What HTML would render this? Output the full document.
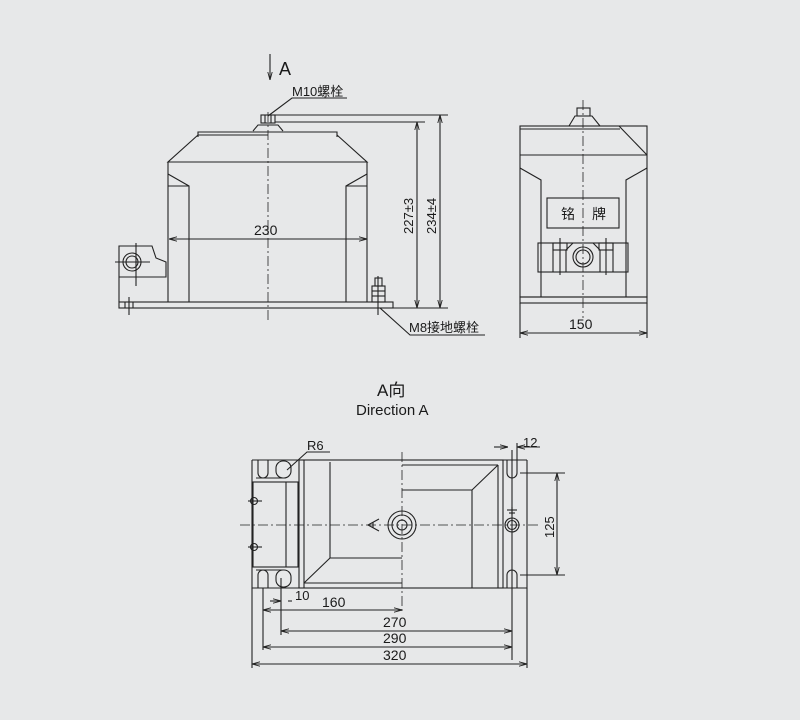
<!DOCTYPE html>
<html><head><meta charset="utf-8"><style>
html,body{margin:0;padding:0;background:#e7e8e9;}
svg{display:block}
text{font-family:"Liberation Sans","Noto Sans CJK SC",sans-serif;fill:#1a1a1a}
</style></head><body>
<svg width="800" height="720" viewBox="0 0 800 720" xmlns="http://www.w3.org/2000/svg">
<defs>
<marker id="a" markerWidth="8" markerHeight="6" refX="8" refY="3" orient="auto-start-reverse" markerUnits="userSpaceOnUse"><path d="M0,0.8 L8,3 L0,5.2" fill="none" stroke="#222" stroke-width="0.9"/></marker>
</defs>
<g fill="none" stroke="#222" stroke-width="1.1">
<!-- LEFT VIEW -->
<line x1="270" y1="54" x2="270" y2="80" marker-end="url(#a)"/>
<polyline points="347,98 292,98 268,116"/>
<rect x="261" y="115" width="14" height="8"/>
<line x1="265" y1="115" x2="265" y2="123"/><line x1="271" y1="115" x2="271" y2="123"/>
<polyline points="253,131 258,125 278,125 283,131"/>
<polyline points="198,137 198,132 337,132 337,137"/>
<line x1="198" y1="135" x2="268" y2="135"/>
<polyline points="198,135 168,162 367,162 337,135"/>
<polyline points="168,162 168,302"/><polyline points="367,162 367,302"/>
<polyline points="168,174 189,186 189,302"/><polyline points="367,174 346,186 346,302"/>
<line x1="168" y1="186" x2="189" y2="186"/><line x1="346" y1="186" x2="367" y2="186"/>
<rect x="119" y="302" width="274" height="6"/>
<polyline points="119,302 119,246 152,246 156,258 166,262 166,277 119,277"/>
<circle cx="132" cy="262" r="9"/><circle cx="132" cy="262" r="6"/>
<line x1="115" y1="262" x2="150" y2="262"/><line x1="136" y1="243" x2="136" y2="286"/>
<line x1="129" y1="297" x2="129" y2="315"/><line x1="125" y1="302" x2="125" y2="308"/><line x1="133" y1="302" x2="133" y2="308"/>
<rect x="372" y="286" width="13" height="16"/><rect x="375" y="278" width="7" height="8"/>
<line x1="372" y1="291" x2="385" y2="291"/><line x1="372" y1="296" x2="385" y2="296"/>
<line x1="378" y1="276" x2="378" y2="315"/>
<polyline points="380,308 410,335 485,335"/>
<line x1="169" y1="239" x2="367" y2="239" marker-start="url(#a)" marker-end="url(#a)"/>
<line x1="275" y1="115" x2="448" y2="115"/><line x1="275" y1="122" x2="425" y2="122"/>
<line x1="393" y1="308" x2="448" y2="308"/>
<line x1="417" y1="122" x2="417" y2="308" marker-start="url(#a)" marker-end="url(#a)"/>
<line x1="440" y1="115" x2="440" y2="308" marker-start="url(#a)" marker-end="url(#a)"/>
<line x1="268" y1="112" x2="268" y2="322" stroke-dasharray="10,3,2,3" stroke-width="0.8"/>
<!-- RIGHT VIEW -->
<rect x="577" y="108" width="13" height="8"/>
<polyline points="569,126 575,116 592,116 600,126"/>
<rect x="520" y="126" width="127" height="171"/>
<line x1="520" y1="129" x2="620" y2="129"/>
<polyline points="619,126 647,155"/>
<line x1="520" y1="155" x2="647" y2="155"/>
<polyline points="520,168 541,180 541,297"/><polyline points="647,168 626,180 626,297"/>
<rect x="520" y="297" width="127" height="6"/>
<rect x="547" y="198" width="72" height="30"/>
<rect x="538" y="243" width="90" height="29"/>
<line x1="553" y1="243" x2="553" y2="272"/><line x1="613" y1="243" x2="613" y2="272"/>
<polyline points="566,272 566,250 573,243 593,243 600,250 600,272"/>
<rect x="553" y="243" width="14" height="7"/><rect x="599" y="243" width="14" height="7"/>
<line x1="560" y1="238" x2="560" y2="275"/><line x1="606" y1="238" x2="606" y2="275"/>
<circle cx="583" cy="257" r="10"/><circle cx="583" cy="257" r="7"/>
<line x1="520" y1="303" x2="520" y2="338"/><line x1="647" y1="303" x2="647" y2="338"/>
<line x1="520" y1="333" x2="647" y2="333" marker-start="url(#a)" marker-end="url(#a)"/>
<line x1="583" y1="100" x2="583" y2="318" stroke-dasharray="10,3,2,3" stroke-width="0.8"/>
<!-- BOTTOM VIEW -->
<polyline points="252,460 252,588 527,588 527,460"/>
<line x1="252" y1="460" x2="299" y2="460"/><line x1="503" y1="460" x2="527" y2="460"/>
<rect x="299" y="460" width="204" height="128"/>
<line x1="304" y1="460" x2="304" y2="588"/>
<line x1="330" y1="462" x2="330" y2="558"/>
<line x1="330" y1="558" x2="402" y2="558"/><line x1="330" y1="558" x2="304" y2="583"/>
<line x1="304" y1="583" x2="402" y2="583"/>
<line x1="402" y1="465" x2="498" y2="465"/><line x1="498" y1="465" x2="472" y2="490"/>
<line x1="402" y1="490" x2="472" y2="490"/><line x1="472" y1="490" x2="472" y2="588"/>
<line x1="498" y1="465" x2="498" y2="588"/>
<path d="M258,460 V473 A5,5 0 0 0 268,473 V460"/>
<path d="M258,588 V575 A5,5 0 0 1 268,575 V588"/>
<rect x="276" y="461" width="15" height="17" rx="7"/>
<rect x="276" y="570" width="15" height="17" rx="7"/>
<path d="M507,460 V473 A5,5 0 0 0 517,473 V460"/>
<path d="M507,588 V575 A5,5 0 0 1 517,575 V588"/>
<rect x="253" y="482" width="45" height="85"/>
<line x1="286" y1="482" x2="286" y2="567"/>
<line x1="256" y1="478" x2="284" y2="478"/><line x1="256" y1="570" x2="284" y2="570"/>
<circle cx="254" cy="501" r="3.5"/><line x1="248" y1="501" x2="262" y2="501"/>
<circle cx="254" cy="547" r="3.5"/><line x1="248" y1="547" x2="262" y2="547"/>
<circle cx="402" cy="525" r="14"/><circle cx="402" cy="525" r="10"/><circle cx="402" cy="525" r="5"/>
<polyline points="379,519 368,525 379,531"/><line x1="373" y1="522" x2="373" y2="528"/>
<circle cx="512" cy="525" r="7"/><circle cx="512" cy="525" r="4.5"/>
<line x1="512" y1="507" x2="512" y2="515"/><line x1="507" y1="510" x2="517" y2="510"/><line x1="509" y1="513" x2="515" y2="513"/>
<line x1="240" y1="525" x2="540" y2="525" stroke-dasharray="10,3,2,3" stroke-width="0.8"/>
<line x1="402" y1="452" x2="402" y2="612" stroke-dasharray="10,3,2,3" stroke-width="0.8"/>
<line x1="512" y1="450" x2="512" y2="660"/>
<line x1="517" y1="443" x2="517" y2="460"/>
<line x1="494" y1="447" x2="508" y2="447" marker-end="url(#a)"/><line x1="540" y1="447" x2="517" y2="447" marker-end="url(#a)"/>
<line x1="520" y1="473" x2="565" y2="473"/><line x1="520" y1="575" x2="565" y2="575"/>
<line x1="557" y1="473" x2="557" y2="575" marker-start="url(#a)" marker-end="url(#a)"/>
<polyline points="287,470 307,452 330,452"/>
<line x1="263" y1="588" x2="263" y2="650"/><line x1="281" y1="578" x2="281" y2="635"/>
<line x1="252" y1="588" x2="252" y2="668"/><line x1="527" y1="588" x2="527" y2="668"/>
<line x1="270" y1="601" x2="281" y2="601" marker-end="url(#a)"/><line x1="292" y1="601" x2="288" y2="601"/>
<line x1="263" y1="610" x2="402" y2="610" marker-start="url(#a)" marker-end="url(#a)"/>
<line x1="281" y1="631" x2="512" y2="631" marker-start="url(#a)" marker-end="url(#a)"/>
<line x1="263" y1="647" x2="512" y2="647" marker-start="url(#a)" marker-end="url(#a)"/>
<line x1="252" y1="664" x2="527" y2="664" marker-start="url(#a)" marker-end="url(#a)"/>
</g>
<g font-size="14">
<text x="279" y="75" font-size="18">A</text>
<text x="292" y="96" font-size="13">M10螺栓</text>
<text x="254" y="235">230</text>
<text x="413" y="234" transform="rotate(-90 413 234)" font-size="13">227±3</text>
<text x="436" y="234" transform="rotate(-90 436 234)" font-size="13">234±4</text>
<text x="409" y="332" font-size="13">M8接地螺栓</text>
<text x="561" y="219" font-size="14">铭</text><text x="592" y="219" font-size="14">牌</text>
<text x="569" y="329">150</text>
<text x="377" y="396" font-size="17">A向</text>
<text x="356" y="415" font-size="15">Direction A</text>
<text x="307" y="450" font-size="13">R6</text>
<text x="523" y="447" font-size="13">12</text>
<text x="554" y="538" transform="rotate(-90 554 538)" font-size="13">125</text>
<text x="295" y="600" font-size="13">10</text>
<text x="322" y="607">160</text>
<text x="383" y="627">270</text>
<text x="383" y="643">290</text>
<text x="383" y="660">320</text>
</g>
</svg>
</body></html>
